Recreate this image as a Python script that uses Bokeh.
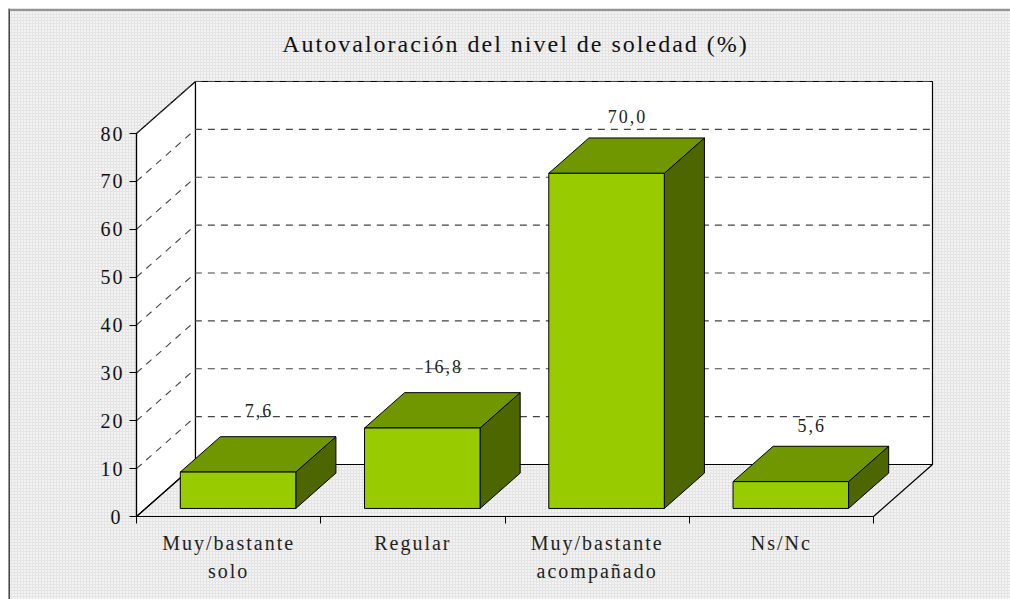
from bokeh.embed import file_html
from bokeh.resources import INLINE
from bokeh.plotting import figure
from bokeh.models import LinearAxis, FixedTicker, Span, ColumnDataSource
from bokeh.core.properties import value

# data
category_lines = [["Muy/bastante", "solo"], ["Regular"], ["Muy/bastante", "acompañado"], ["Ns/Nc"]]
values = [7.6, 16.8, 70.0, 5.6]
labels = ["7,6", "16,8", "70,0", "5,6"]
label_lift = [26, 26, 21, 21]
y_ticks = [0, 10, 20, 30, 40, 50, 60, 70, 80]
title_text = "Autovaloración del nivel de soledad (%)"

# layout
W, H = 1002, 591
cat_px, unit_px = 184.25, 4.7875
ax_x, ax_y = 128, 508            # plot origin in frame pixels
depth_x, depth_y = 59 / cat_px, 52 / unit_px
n = len(values)
top = y_ticks[-1]
SPACING = 2.0                    # px of letter spacing, inherited from the page

FRONT, BACK = 0.155, 0.835
BAR_L, BAR_W = 0.188, 0.627
SERIF = value("Liberation Serif")

p = figure(width=W, height=H, output_backend="svg", toolbar_location=None,
           x_range=(-ax_x / cat_px, (W - ax_x) / cat_px),
           y_range=(-(H - ax_y) / unit_px, ax_y / unit_px),
           x_axis_location=None, y_axis_location=None, min_border=0)
p.grid.visible = False
p.outline_line_color = None
p.background_fill_color = None
p.border_fill_color = None
p.styles = {
    "background-color": "#f3f3f3",
    "background-image": "linear-gradient(#e4e4e4 1px, transparent 1px), linear-gradient(90deg, #e4e4e4 1px, transparent 1px)",
    "background-size": "3px 3px",
}

p.add_layout(Span(location=0.5, location_units="screen", dimension="height", line_color="#111111", line_width=1.5))
p.add_layout(Span(location=H - 1.5, location_units="screen", dimension="width", line_color="#777777", line_width=1.5))

# walls and floor
p.patch([0, 0, depth_x, depth_x], [0, top, top + depth_y, depth_y], fill_color="white", line_color="black", line_width=1.2)
p.patch([depth_x, depth_x, n + depth_x, n + depth_x], [depth_y, top + depth_y, top + depth_y, depth_y],
        fill_color="white", line_color="black", line_width=1.2)
p.patch([0, n, n + depth_x, depth_x], [0, 0, depth_y, depth_y], fill_color=None, line_color="black", line_width=1.2)

# dashed gridlines
gx, gy = [], []
for t in y_ticks[1:]:
    gx.append([0, depth_x, n + depth_x])
    gy.append([t, t + depth_y, t + depth_y])
p.multi_line(gx, gy, line_color="#444444", line_width=1.1, line_dash="7 6")

# bars
front_x, front_y, top_x, top_y, side_x, side_y = [], [], [], [], [], []
lab_x, lab_y = [], []
for i, v in enumerate(values):
    xl = i + BAR_L + FRONT * depth_x
    xr = xl + BAR_W
    yb = FRONT * depth_y
    yt = yb + v
    dx = (BACK - FRONT) * depth_x
    dy = (BACK - FRONT) * depth_y
    front_x.append([xl, xr, xr, xl]); front_y.append([yb, yb, yt, yt])
    top_x.append([xl, xr, xr + dx, xl + dx]); top_y.append([yt, yt, yt + dy, yt + dy])
    side_x.append([xr, xr + dx, xr + dx, xr]); side_y.append([yb, yb + dy, yt + dy, yt])
    lab_x.append((xl + xr) / 2 + dx / 2); lab_y.append(yt + dy)

p.patches(side_x, side_y, fill_color="#4D6600", line_color="black", line_width=1)
p.patches(top_x, top_y, fill_color="#709700", line_color="black", line_width=1)
p.patches(front_x, front_y, fill_color="#99CC00", line_color="black", line_width=1)

src = ColumnDataSource(dict(x=lab_x, y=lab_y, t=labels, off=[-l for l in label_lift],
                            xo=[1 - len(t) * SPACING / 2 for t in labels]))
p.text("x", "y", text="t", source=src, x_offset="xo", y_offset="off", text_align="center", text_baseline="alphabetic",
       text_font=SERIF, text_font_size="18px", text_color="#222222")

# title
p.text([(n + depth_x) / 2 - 0.103], [top + depth_y + 38 / unit_px], text=[title_text],
       x_offset=-len(title_text) * SPACING / 2, text_align="center", text_baseline="alphabetic",
       text_font=SERIF, text_font_size="24px", text_color="#111111")

# category labels
cx, cy, ct, cxo, cyo = [], [], [], [], []
for i, lines in enumerate(category_lines):
    for j, line in enumerate(lines):
        cx.append(i + 0.5); cy.append(0); ct.append(line)
        cxo.append(-len(line) * SPACING / 2); cyo.append(26 + 28 * j)
p.text("x", "y", text="t", source=ColumnDataSource(dict(x=cx, y=cy, t=ct, xo=cxo, yo=cyo)), x_offset="xo", y_offset="yo",
       text_align="center", text_baseline="alphabetic", text_font=SERIF, text_font_size="20px", text_color="#222222")

# axes
ya = LinearAxis(ticker=FixedTicker(ticks=y_ticks), fixed_location=0, bounds=(0, top))
ya.major_tick_out = 7; ya.major_tick_in = 0; ya.minor_tick_line_color = None
ya.major_label_standoff = 9
ya.major_label_text_font = "Liberation Serif"; ya.major_label_text_font_size = "20px"; ya.major_label_text_color = "#111111"
ya.axis_line_color = "black"; ya.axis_line_width = 1.2
p.add_layout(ya, "left")

xa = LinearAxis(ticker=FixedTicker(ticks=list(range(n + 1))), fixed_location=0, bounds=(0, n))
xa.major_tick_out = 7; xa.major_tick_in = 0; xa.minor_tick_line_color = None
xa.major_label_text_color = None
xa.axis_line_color = "black"; xa.axis_line_width = 1.2
p.add_layout(xa, "below")

html = file_html(p, INLINE)
html = html.replace("</head>", "<style>html,body{letter-spacing:%spx;overflow:hidden}body{margin:8px 0 0 8px !important}</style></head>" % SPACING, 1)
open("out.html", "w").write(html)
